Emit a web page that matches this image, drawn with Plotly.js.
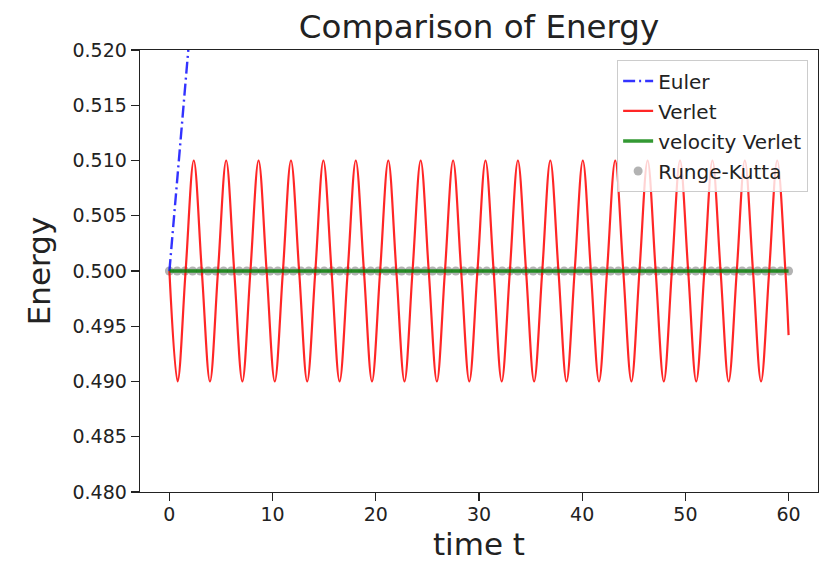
<!DOCTYPE html>
<html>
<head>
<meta charset="utf-8">
<script src="https://cdn.plot.ly/plotly-3.0.1.min.js"></script>
<style>
  html, body { margin: 0; padding: 0; background: #ffffff; }
  #chart { width: 830px; height: 562px; }
</style>
</head>
<body>
<div id="chart"></div>
<script>
// ---- data ----
const seriesNames = ["Euler", "Verlet", "velocity Verlet", "Runge-Kutta"];

// Euler: energy grows steadily from 0.5 (leaves the view near t = 1.9)
const eulerTime   = [0, 1, 2, 3, 4, 5];
const eulerEnergy = [0.5, 0.5107, 0.5216, 0.5328, 0.5443, 0.556];

// Verlet: oscillation between 0.490 and 0.510 (crossings and extremes)
const verletTime = [
  0, 0.79, 1.57, 2.36, 3.14, 3.93, 4.71, 5.50, 6.28, 7.07,
  7.85, 8.64, 9.42, 10.21, 11.00, 11.78, 12.57, 13.35, 14.14, 14.92,
  15.71, 16.49, 17.28, 18.06, 18.85, 19.63, 20.42, 21.21, 21.99, 22.78,
  23.56, 24.35, 25.13, 25.92, 26.70, 27.49, 28.27, 29.06, 29.85, 30.63,
  31.42, 32.20, 32.99, 33.77, 34.56, 35.34, 36.13, 36.91, 37.70, 38.48,
  39.27, 40.06, 40.84, 41.63, 42.41, 43.20, 43.98, 44.77, 45.55, 46.34,
  47.12, 47.91, 48.69, 49.48, 50.27, 51.05, 51.84, 52.62, 53.41, 54.19,
  54.98, 55.76, 56.55, 57.33, 58.12, 58.90, 59.69, 60.0
];
const verletEnergy = [
  0.500, 0.490, 0.500, 0.510, 0.500, 0.490, 0.500, 0.510, 0.500, 0.490,
  0.500, 0.510, 0.500, 0.490, 0.500, 0.510, 0.500, 0.490, 0.500, 0.510,
  0.500, 0.490, 0.500, 0.510, 0.500, 0.490, 0.500, 0.510, 0.500, 0.490,
  0.500, 0.510, 0.500, 0.490, 0.500, 0.510, 0.500, 0.490, 0.500, 0.510,
  0.500, 0.490, 0.500, 0.510, 0.500, 0.490, 0.500, 0.510, 0.500, 0.490,
  0.500, 0.510, 0.500, 0.490, 0.500, 0.510, 0.500, 0.490, 0.500, 0.510,
  0.500, 0.490, 0.500, 0.510, 0.500, 0.490, 0.500, 0.510, 0.500, 0.490,
  0.500, 0.510, 0.500, 0.490, 0.500, 0.510, 0.500, 0.4942
];

// velocity Verlet: flat at 0.5
const vvTime   = [0, 60];
const vvEnergy = [0.5, 0.5];

// Runge-Kutta: dense dots at 0.5
const rkTime = [
  0, 0.75, 1.5, 2.25, 3, 3.75, 4.5, 5.25, 6, 6.75,
  7.5, 8.25, 9, 9.75, 10.5, 11.25, 12, 12.75, 13.5, 14.25,
  15, 15.75, 16.5, 17.25, 18, 18.75, 19.5, 20.25, 21, 21.75,
  22.5, 23.25, 24, 24.75, 25.5, 26.25, 27, 27.75, 28.5, 29.25,
  30, 30.75, 31.5, 32.25, 33, 33.75, 34.5, 35.25, 36, 36.75,
  37.5, 38.25, 39, 39.75, 40.5, 41.25, 42, 42.75, 43.5, 44.25,
  45, 45.75, 46.5, 47.25, 48, 48.75, 49.5, 50.25, 51, 51.75,
  52.5, 53.25, 54, 54.75, 55.5, 56.25, 57, 57.75, 58.5, 59.25, 60
];
const rkEnergy = [
  0.5, 0.5, 0.5, 0.5, 0.5, 0.5, 0.5, 0.5, 0.5, 0.5,
  0.5, 0.5, 0.5, 0.5, 0.5, 0.5, 0.5, 0.5, 0.5, 0.5,
  0.5, 0.5, 0.5, 0.5, 0.5, 0.5, 0.5, 0.5, 0.5, 0.5,
  0.5, 0.5, 0.5, 0.5, 0.5, 0.5, 0.5, 0.5, 0.5, 0.5,
  0.5, 0.5, 0.5, 0.5, 0.5, 0.5, 0.5, 0.5, 0.5, 0.5,
  0.5, 0.5, 0.5, 0.5, 0.5, 0.5, 0.5, 0.5, 0.5, 0.5,
  0.5, 0.5, 0.5, 0.5, 0.5, 0.5, 0.5, 0.5, 0.5, 0.5,
  0.5, 0.5, 0.5, 0.5, 0.5, 0.5, 0.5, 0.5, 0.5, 0.5, 0.5
];

const xTickVals = [0, 10, 20, 30, 40, 50, 60];
const yTickVals = [0.480, 0.485, 0.490, 0.495, 0.500, 0.505, 0.510, 0.515, 0.520];
const yTickText = ["0.480", "0.485", "0.490", "0.495", "0.500", "0.505", "0.510", "0.515", "0.520"];

const FONT = "DejaVu Sans, Liberation Sans, sans-serif";

const traces = [
  {
    x: rkTime, y: rkEnergy, name: seriesNames[3], type: "scatter", mode: "markers",
    marker: { color: "rgba(128,128,128,0.6)", size: 9, line: { width: 0 } },
    legendrank: 4, legendgroup: "g4"
  },
  {
    x: eulerTime, y: eulerEnergy, name: seriesNames[0], type: "scatter", mode: "lines",
    line: { color: "rgba(0,0,255,0.8)", width: 2.4, dash: "12px,4px,2px,4px" },
    legendrank: 1, legendgroup: "g1"
  },
  {
    x: verletTime, y: verletEnergy, name: seriesNames[1], type: "scatter", mode: "lines",
    line: { color: "rgba(255,0,0,0.85)", width: 2.2, shape: "spline", smoothing: 1 },
    legendrank: 2, legendgroup: "g2"
  },
  {
    x: vvTime, y: vvEnergy, name: seriesNames[2], type: "scatter", mode: "lines",
    line: { color: "rgba(0,128,0,0.8)", width: 3.5 },
    legendrank: 3, legendgroup: "g3"
  }
];

const layout = {
  width: 830, height: 562,
  margin: { l: 140, r: 12, t: 50, b: 70, pad: 0 },
  paper_bgcolor: "#ffffff", plot_bgcolor: "#ffffff",
  font: { family: FONT, color: "#222222", size: 19 },
  title: {
    text: "Comparison of Energy",
    x: 0.5, xref: "paper", xanchor: "center",
    y: 0.952, yref: "container", yanchor: "middle",
    font: { family: FONT, size: 32.5, color: "#222222" }
  },
  showlegend: true,
  legend: {
    x: 0.985, xanchor: "right", y: 0.977, yanchor: "top",
    bgcolor: "rgba(255,255,255,0.8)", bordercolor: "#cccccc", borderwidth: 1.3,
    font: { family: FONT, size: 20, color: "#222222" },
    traceorder: "grouped", tracegroupgap: 1
  },
  xaxis: {
    range: [-2.85, 62.85],
    tickvals: xTickVals,
    ticks: "outside", ticklen: 8, tickwidth: 1.3, tickcolor: "#222222",
    ticklabelstandoff: -3,
    showline: true, linecolor: "#222222", linewidth: 1.3, mirror: true,
    showgrid: false, zeroline: false,
    tickfont: { family: FONT, size: 19, color: "#222222" },
    title: { text: "time t", font: { family: FONT, size: 31, color: "#222222" }, standoff: 18 },
    automargin: false
  },
  yaxis: {
    range: [0.48, 0.52],
    tickvals: yTickVals, ticktext: yTickText,
    ticks: "outside", ticklen: 8, tickwidth: 1.3, tickcolor: "#222222",
    showline: true, linecolor: "#222222", linewidth: 1.3, mirror: true,
    showgrid: false, zeroline: false,
    tickfont: { family: FONT, size: 19, color: "#222222" },
    title: { text: "Energy", font: { family: FONT, size: 31, color: "#222222" }, standoff: 12 },
    automargin: false
  }
};

Plotly.newPlot("chart", traces, layout, { displayModeBar: false, staticPlot: true });
</script>
</body>
</html>
